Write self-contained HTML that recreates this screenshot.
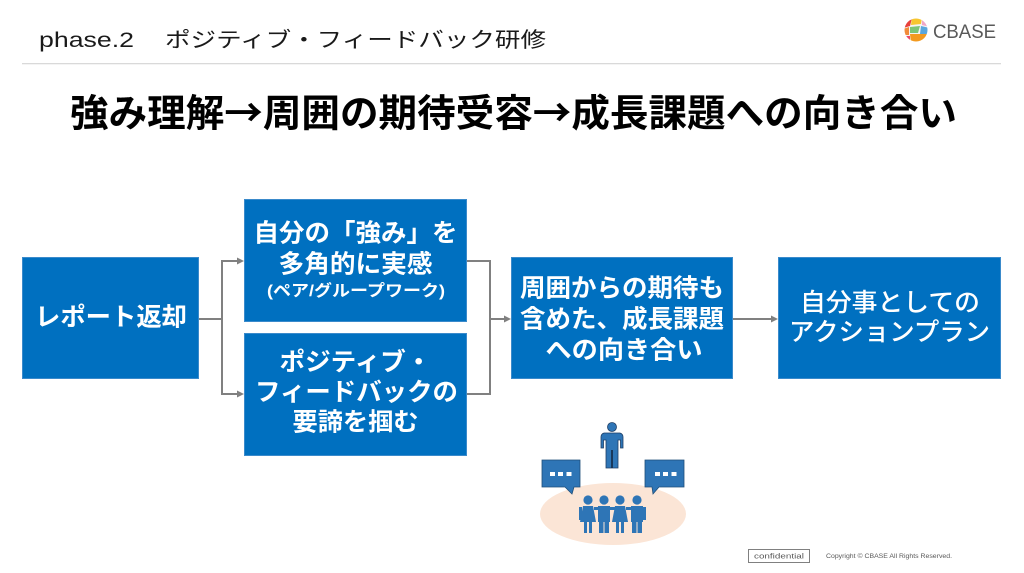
<!DOCTYPE html>
<html><head><meta charset="utf-8"><style>
html,body{margin:0;padding:0;background:#fff;}
body{width:1024px;height:573px;overflow:hidden;position:relative;}
svg{position:absolute;left:0;top:0;}
</style></head><body>
<svg width="1024" height="573" viewBox="0 0 1024 573" xmlns="http://www.w3.org/2000/svg" font-family="'Liberation Sans','Noto Sans CJK JP',sans-serif">
<defs>
<clipPath id="lc"><circle cx="916" cy="30" r="11.5"/></clipPath>
</defs>
<!-- header -->
<text x="39" y="47" font-size="21" fill="#1a1a1a" textLength="95" lengthAdjust="spacingAndGlyphs">phase.2</text>
<text x="165" y="47" font-size="21" fill="#1a1a1a" textLength="381" lengthAdjust="spacingAndGlyphs" font-family="'Noto Sans CJK JP',sans-serif">ポジティブ・フィードバック研修</text>
<rect x="22" y="63" width="979" height="1.3" fill="#d9d9d9"/>
<!-- logo -->
<g clip-path="url(#lc)">
<rect x="904" y="18" width="24" height="24" fill="#f4f4f4"/>
<polygon points="903,18 912,18 910,26 903,28" fill="#e8413c"/>
<polygon points="912,17 922,17 921,24 911,25" fill="#f7c62f"/>
<polygon points="922,17 930,20 930,27 922,25" fill="#f1a7c6"/>
<polygon points="903,29 909,27 909,35 903,35" fill="#f28b3a"/>
<polygon points="910,27 920,26 918,33 910,33" fill="#7cc576"/>
<polygon points="921,26 930,28 930,34 920,34" fill="#5aa7de"/>
<polygon points="910,34 928,34 925,43 911,43" fill="#f39a1f"/>
<polygon points="903,36 910,36 910,43 903,43" fill="#e94b6a"/>
</g>
<text x="933" y="38" font-size="19" fill="#595959" textLength="63" lengthAdjust="spacingAndGlyphs">CBASE</text>
<!-- title -->
<text x="70" y="126.5" font-size="38" font-weight="700" fill="#000" textLength="887" lengthAdjust="spacingAndGlyphs" font-family="'Noto Sans CJK JP',sans-serif">強み理解→周囲の期待受容→成長課題への向き合い</text>
<!-- connectors -->
<g stroke="#808080" stroke-width="2" fill="none">
<path d="M199,319 H222 M222,260 V395 M221,261 H238 M221,394 H238"/>
<path d="M467,261 H491 M467,394 H491 M490,260 V395 M490,319 H505"/>
<path d="M733,319 H772"/>
</g>
<g fill="#808080">
<polygon points="244,261 237,257.5 237,264.5"/>
<polygon points="244,394 237,390.5 237,397.5"/>
<polygon points="511,319 504,315.5 504,322.5"/>
<polygon points="778,319 771,315.5 771,322.5"/>
</g>
<!-- boxes -->
<g fill="#0070C0" stroke="#3a8acb" stroke-width="1">
<rect x="22.5" y="257.5" width="176" height="121"/>
<rect x="244.5" y="199.5" width="222" height="122"/>
<rect x="244.5" y="333.5" width="222" height="122"/>
<rect x="511.5" y="257.5" width="221" height="121"/>
<rect x="778.5" y="257.5" width="222" height="121"/>
</g>
<g fill="#fff" font-weight="700" font-size="25" text-anchor="middle">
<text x="111" y="325.5" textLength="152" lengthAdjust="spacingAndGlyphs">レポート返却</text>
<text x="355.5" y="241.5" textLength="204" lengthAdjust="spacingAndGlyphs">自分の「強み」を</text>
<text x="355.5" y="272.5" textLength="154" lengthAdjust="spacingAndGlyphs">多角的に実感</text>
<text x="356" y="296" font-size="16" textLength="178" lengthAdjust="spacingAndGlyphs">(ペア/グループワーク)</text>
<text x="355.5" y="370.5" textLength="152" lengthAdjust="spacingAndGlyphs">ポジティブ・</text>
<text x="356.5" y="400.5" textLength="203" lengthAdjust="spacingAndGlyphs">フィードバックの</text>
<text x="355.5" y="430.5" textLength="126" lengthAdjust="spacingAndGlyphs">要諦を掴む</text>
<text x="622" y="296.5" textLength="204" lengthAdjust="spacingAndGlyphs">周囲からの期待も</text>
<text x="622" y="327.5" textLength="204" lengthAdjust="spacingAndGlyphs">含めた、成長課題</text>
<text x="624" y="358.5" textLength="157" lengthAdjust="spacingAndGlyphs">への向き合い</text>
</g>
<g fill="#fff" font-weight="500" font-size="25" text-anchor="middle">
<text x="890" y="311" textLength="180" lengthAdjust="spacingAndGlyphs">自分事としての</text>
<text x="889.5" y="340.5" textLength="201" lengthAdjust="spacingAndGlyphs">アクションプラン</text>
</g>
<!-- illustration -->
<ellipse cx="613" cy="514" rx="73" ry="31" fill="#FBE5D6"/>
<!-- standing person -->
<g fill="#2E75B6" stroke="#1f3f66" stroke-width="0.8">
<circle cx="612" cy="427" r="4.5"/>
<path d="M604,433 L620,433 Q623,434 623,437 L623,448 L620.5,448 L620.5,440 L618,440 L618,468 L606,468 L606,440 L603.5,440 L603.5,448 L601,448 L601,437 Q601,434 604,433 Z"/>
</g>
<line x1="612" y1="450" x2="612" y2="468" stroke="#10243d" stroke-width="1.5"/>
<!-- bubbles -->
<g fill="#2E75B6" stroke="#1F4E79" stroke-width="0.8">
<path d="M542,460 H580 V487 H574 L572,494 L565,487 H542 Z"/>
<path d="M645,460 H684 V487 H659 L653,494 L652,487 H645 Z"/>
</g>
<g fill="#fff">
<rect x="550" y="472" width="5" height="4"/><rect x="558" y="472" width="5" height="4"/><rect x="566.5" y="472" width="5" height="4"/>
<rect x="655" y="472" width="5" height="4"/><rect x="663" y="472" width="5" height="4"/><rect x="671.5" y="472" width="5" height="4"/>
</g>
<!-- group of four -->
<g fill="#2E75B6">
<circle cx="588" cy="500" r="4.6"/><circle cx="604" cy="500" r="4.6"/><circle cx="620" cy="500" r="4.6"/><circle cx="637" cy="500" r="4.6"/>
<path d="M583,506 H593 L596,522 H580 Z"/><rect x="584" y="521" width="3" height="12"/><rect x="589" y="521" width="3" height="12"/>
<rect x="579" y="507" width="3" height="13"/>
<path d="M598,506 H610 V522 H598 Z"/><rect x="599" y="520" width="4.5" height="13"/><rect x="604.5" y="520" width="4.5" height="13"/>
<rect x="594" y="507" width="26" height="3"/>
<path d="M615,506 H625 L628,522 H612 Z"/><rect x="616" y="521" width="3" height="12"/><rect x="621" y="521" width="3" height="12"/>
<path d="M631,506 H643 V522 H631 Z"/><rect x="632" y="520" width="4.5" height="13"/><rect x="637.5" y="520" width="4.5" height="13"/>
<rect x="626" y="507" width="20" height="3"/>
<rect x="643" y="507" width="3" height="13"/>
</g>
<!-- footer -->
<rect x="748.5" y="549.5" width="61" height="13" fill="#fff" stroke="#808080" stroke-width="1"/>
<text x="779" y="558.5" font-size="7" fill="#595959" text-anchor="middle" textLength="50" lengthAdjust="spacingAndGlyphs">confidential</text>
<text x="826" y="558" font-size="6.5" fill="#595959" textLength="126" lengthAdjust="spacingAndGlyphs">Copyright © CBASE All Rights Reserved.</text>
</svg>
</body></html>
